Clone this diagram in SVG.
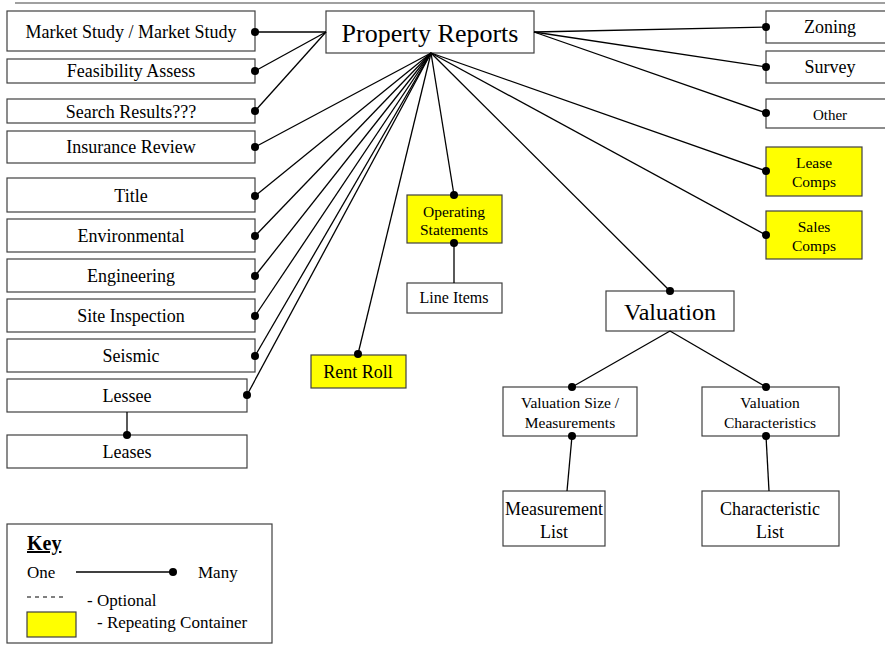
<svg xmlns="http://www.w3.org/2000/svg" width="885" height="645" viewBox="0 0 885 645">
<style>
.b{fill:#fff;stroke:#404040;stroke-width:1.2}
.y{fill:#ffff00;stroke:#404040;stroke-width:1.2}
text{font-family:"Liberation Serif","Times New Roman",serif;fill:#000;text-anchor:middle}
text.s{text-anchor:start}
.c line{stroke:#000;stroke-width:1.3}
.d{fill:#000}
</style>
<rect width="885" height="645" fill="#fff"/>
<line x1="15" y1="3" x2="885" y2="3" stroke="#808080" stroke-width="1.5"/>
<g id="property-reports"><rect class="b" x="326" y="11" width="208" height="42"/><text x="430" y="42" font-size="26">Property Reports</text></g>
<g id="market-study"><rect class="b" x="7" y="11" width="248" height="40"/><text x="131" y="38" font-size="18">Market Study / Market Study</text></g>
<g id="feasibility"><rect class="b" x="7" y="59" width="248" height="24"/><text x="131" y="77" font-size="18">Feasibility Assess</text></g>
<g id="search-results"><rect class="b" x="7" y="99" width="248" height="24"/><text x="131" y="118" font-size="18">Search Results???</text></g>
<g id="insurance"><rect class="b" x="7" y="131" width="248" height="32"/><text x="131" y="153" font-size="18">Insurance Review</text></g>
<g id="title"><rect class="b" x="7" y="178" width="248" height="34"/><text x="131" y="202" font-size="18">Title</text></g>
<g id="environmental"><rect class="b" x="7" y="219" width="248" height="33"/><text x="131" y="242" font-size="18">Environmental</text></g>
<g id="engineering"><rect class="b" x="7" y="259" width="248" height="33"/><text x="131" y="282" font-size="18">Engineering</text></g>
<g id="site-inspection"><rect class="b" x="7" y="299" width="248" height="33"/><text x="131" y="322" font-size="18">Site Inspection</text></g>
<g id="seismic"><rect class="b" x="7" y="339" width="248" height="33"/><text x="131" y="362" font-size="18">Seismic</text></g>
<g id="lessee"><rect class="b" x="7" y="379" width="240" height="33"/><text x="127" y="402" font-size="18">Lessee</text></g>
<g id="leases"><rect class="b" x="7" y="435" width="240" height="33"/><text x="127" y="458" font-size="18">Leases</text></g>
<g id="rent-roll"><rect class="y" x="311" y="355" width="95" height="33"/><text x="358" y="378" font-size="18">Rent Roll</text></g>
<g id="operating-statements"><rect class="y" x="407" y="195" width="95" height="48"/><text x="454" y="217" font-size="15.5">Operating</text><text x="454" y="235" font-size="15.5">Statements</text></g>
<g id="line-items"><rect class="b" x="407" y="283" width="95" height="30"/><text x="454" y="303" font-size="16">Line Items</text></g>
<g id="zoning"><rect class="b" x="766" y="11" width="130" height="32"/><text x="830" y="33" font-size="18">Zoning</text></g>
<g id="survey"><rect class="b" x="766" y="51" width="130" height="32"/><text x="830" y="73" font-size="18">Survey</text></g>
<g id="other"><rect class="b" x="766" y="99" width="130" height="29"/><text x="830" y="120" font-size="15">Other</text></g>
<g id="lease-comps"><rect class="y" x="766" y="147" width="96" height="49"/><text x="814" y="168" font-size="15.5">Lease</text><text x="814" y="187" font-size="15.5">Comps</text></g>
<g id="sales-comps"><rect class="y" x="766" y="211" width="96" height="48"/><text x="814" y="232" font-size="15.5">Sales</text><text x="814" y="251" font-size="15.5">Comps</text></g>
<g id="valuation"><rect class="b" x="606" y="291" width="128" height="40"/><text x="670" y="320" font-size="24">Valuation</text></g>
<g id="valuation-size"><rect class="b" x="503" y="387" width="134" height="49"/><text x="570" y="408" font-size="15.5">Valuation Size /</text><text x="570" y="428" font-size="15.5">Measurements</text></g>
<g id="valuation-characteristics"><rect class="b" x="702" y="387" width="137" height="49"/><text x="770" y="408" font-size="15.5">Valuation</text><text x="770" y="428" font-size="15.5">Characteristics</text></g>
<g id="measurement-list"><rect class="b" x="503" y="491" width="102" height="55"/><text x="554" y="515" font-size="18">Measurement</text><text x="554" y="538" font-size="18">List</text></g>
<g id="characteristic-list"><rect class="b" x="702" y="491" width="137" height="55"/><text x="770" y="515" font-size="18">Characteristic</text><text x="770" y="538" font-size="18">List</text></g>
<g class="c" id="connectors">
<line x1="255" y1="32" x2="326" y2="32"/>
<line x1="255" y1="71" x2="326" y2="32"/>
<line x1="255" y1="111" x2="326" y2="32"/>
<line x1="255" y1="147" x2="431" y2="53"/>
<line x1="255" y1="196" x2="431" y2="53"/>
<line x1="255" y1="236" x2="431" y2="53"/>
<line x1="255" y1="276" x2="431" y2="53"/>
<line x1="255" y1="316" x2="431" y2="53"/>
<line x1="255" y1="356" x2="431" y2="53"/>
<line x1="247" y1="395" x2="431" y2="53"/>
<line x1="127" y1="412" x2="127" y2="435"/>
<line x1="358" y1="354" x2="431" y2="53"/>
<line x1="454" y1="195" x2="431" y2="53"/>
<line x1="454" y1="243" x2="454" y2="283"/>
<line x1="670" y1="291" x2="431" y2="53"/>
<line x1="766" y1="171" x2="431" y2="53"/>
<line x1="766" y1="235" x2="431" y2="53"/>
<line x1="534" y1="32" x2="766" y2="27"/>
<line x1="534" y1="32" x2="766" y2="67"/>
<line x1="534" y1="32" x2="766" y2="113"/>
<line x1="670" y1="331" x2="572" y2="387"/>
<line x1="670" y1="331" x2="766" y2="387"/>
<line x1="572" y1="436" x2="567" y2="491"/>
<line x1="766" y1="436" x2="769" y2="491"/>
<g class="d">
<circle cx="255" cy="32" r="4"/><circle cx="255" cy="71" r="4"/><circle cx="255" cy="111" r="4"/><circle cx="255" cy="147" r="4"/>
<circle cx="255" cy="196" r="4"/><circle cx="255" cy="236" r="4"/><circle cx="255" cy="276" r="4"/><circle cx="255" cy="316" r="4"/>
<circle cx="255" cy="356" r="4"/><circle cx="247" cy="395" r="4"/><circle cx="127" cy="435" r="4"/>
<circle cx="358" cy="354" r="4"/><circle cx="454" cy="195" r="4"/><circle cx="454" cy="243" r="4"/>
<circle cx="670" cy="291" r="4"/><circle cx="766" cy="27" r="4"/><circle cx="766" cy="67" r="4"/><circle cx="766" cy="113" r="4"/>
<circle cx="766" cy="171" r="4"/><circle cx="766" cy="235" r="4"/>
<circle cx="572" cy="387" r="4"/><circle cx="766" cy="387" r="4"/><circle cx="572" cy="436" r="4"/><circle cx="766" cy="436" r="4"/>
</g>
</g>
<g id="key">
<rect x="7" y="524" width="265" height="119" fill="#fff" stroke="#404040" stroke-width="1.2"/>
<text class="s" x="27" y="550" font-size="20" font-weight="bold" text-decoration="underline">Key</text>
<text class="s" x="27" y="578" font-size="17">One</text>
<line x1="76" y1="572" x2="173" y2="572" stroke="#000" stroke-width="1.3"/>
<circle cx="173" cy="572" r="4" fill="#000"/>
<text class="s" x="198" y="578" font-size="17">Many</text>
<line x1="27" y1="597" x2="66" y2="597" stroke="#000" stroke-width="1" stroke-dasharray="4,4"/>
<text class="s" x="87" y="606" font-size="17">- Optional</text>
<rect class="y" x="27" y="612" width="49" height="25"/>
<text class="s" x="97" y="628" font-size="17">- Repeating Container</text>
</g>
</svg>
